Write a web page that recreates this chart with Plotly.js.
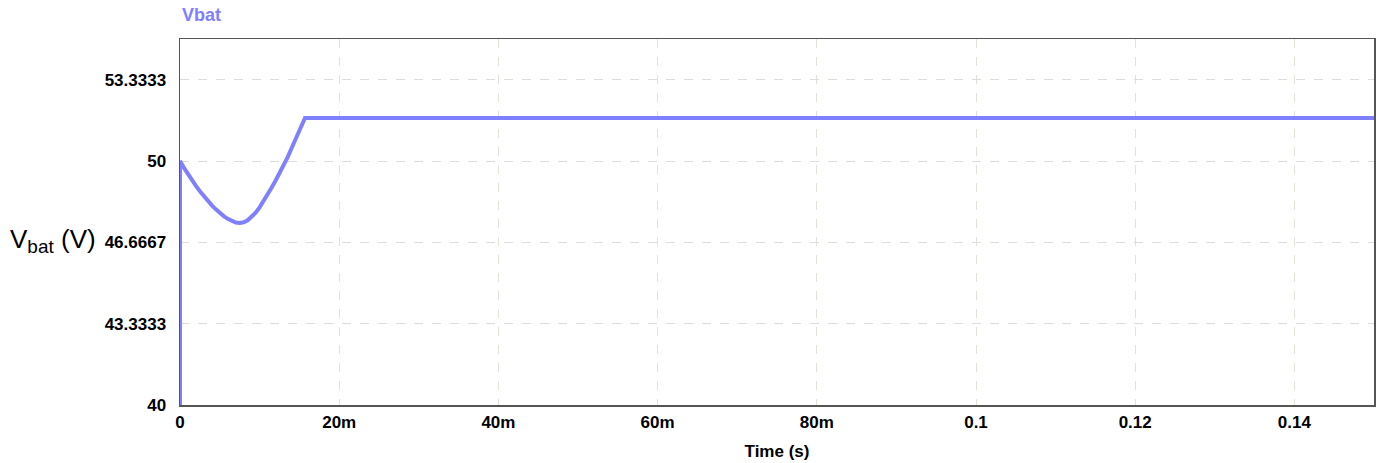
<!DOCTYPE html>
<html>
<head>
<meta charset="utf-8">
<script src="https://cdn.plot.ly/plotly-3.0.1.min.js"></script>
<style>body{margin:0;padding:0;background:#fff;} #chart{width:1376px;height:463px;}</style>
</head>
<body>
<div id="chart"></div>
<script>
// Time (s) and battery voltage (V)
const timeS = [0, 0, 0.0005, 0.0010, 0.0015, 0.0020, 0.0025, 0.0030, 0.0035, 0.0040, 0.0045, 0.0050, 0.0055, 0.0060, 0.0065, 0.0070, 0.0075, 0.0080, 0.0085, 0.0090, 0.0095, 0.0100, 0.0105, 0.0110, 0.0115, 0.0120, 0.0125, 0.0130, 0.0135, 0.0140, 0.0145, 0.0150, 0.0155, 0.0157, 0.0300, 0.0500, 0.0700, 0.0900, 0.1100, 0.1300, 0.1500];
const vbat  = [40, 50, 49.72, 49.46, 49.21, 48.98, 48.76, 48.55, 48.36, 48.18, 48.02, 47.87, 47.74, 47.63, 47.54, 47.48, 47.46, 47.49, 47.57, 47.70, 47.88, 48.10, 48.35, 48.62, 48.90, 49.19, 49.48, 49.78, 50.14, 50.51, 50.88, 51.25, 51.61, 51.76, 51.76, 51.77, 51.76, 51.77, 51.76, 51.76, 51.76];
const xTickVals = [0, 0.02, 0.04, 0.06, 0.08, 0.10, 0.12, 0.14];
const xTickText = ["0", "20m", "40m", "60m", "80m", "0.1", "0.12", "0.14"];
const yTickVals = [40, 43.3333, 46.6667, 50, 53.3333];
const yTickText = ["40", "43.3333", "46.6667", "50", "53.3333"];

const trace = {
  x: timeS, y: vbat, type: 'scatter', mode: 'lines',
  line: {color: '#8080ff', width: 4}, name: 'Vbat', showlegend: false
};
const layout = {
  width: 1376, height: 463,
  margin: {l: 180, r: 2, t: 39, b: 58},
  paper_bgcolor: '#ffffff', plot_bgcolor: '#ffffff',
  font: {family: 'Arial, Liberation Sans, sans-serif', color: '#000'},
  xaxis: {
    range: [0, 0.15], tickvals: xTickVals, ticktext: xTickText,
    tickfont: {size: 17, family: 'Arial, Liberation Sans, sans-serif', weight: 'bold'},
    showgrid: true, gridcolor: '#e2e2d6', griddash: 'dash', gridwidth: 1,
    showline: true, linecolor: '#555', linewidth: 1.5, mirror: true,
    zeroline: false, ticks: '', ticklabelstandoff: 1,
    title: {text: 'Time (s)', font: {size: 17, weight: 'bold'}, standoff: 14}
  },
  yaxis: {
    range: [40, 55], tickvals: yTickVals, ticktext: yTickText,
    tickfont: {size: 17, family: 'Arial, Liberation Sans, sans-serif', weight: 'bold'},
    showgrid: true, gridcolor: '#dddddd', griddash: 'dash', gridwidth: 1,
    showline: true, linecolor: '#555', linewidth: 1.5, mirror: true,
    zeroline: false, ticks: '', ticklabelstandoff: 9
  },
  annotations: [
    {text: 'Vbat', xref: 'paper', yref: 'paper', x: 0, y: 1, xanchor: 'left', yanchor: 'bottom',
     yshift: 12, showarrow: false, font: {size: 18, color: '#8080ff', weight: 'bold'}},
    {text: 'V<sub><span style="font-size:19px">bat</span></sub> (V)', xref: 'paper', yref: 'paper', x: 0, y: 0.45, xanchor: 'left', yanchor: 'middle',
     xshift: -172, showarrow: false, font: {size: 26, color: '#000'}}
  ]
};
Plotly.newPlot('chart', [trace], layout, {displayModeBar: false, staticPlot: true});
</script>
</body>
</html>
